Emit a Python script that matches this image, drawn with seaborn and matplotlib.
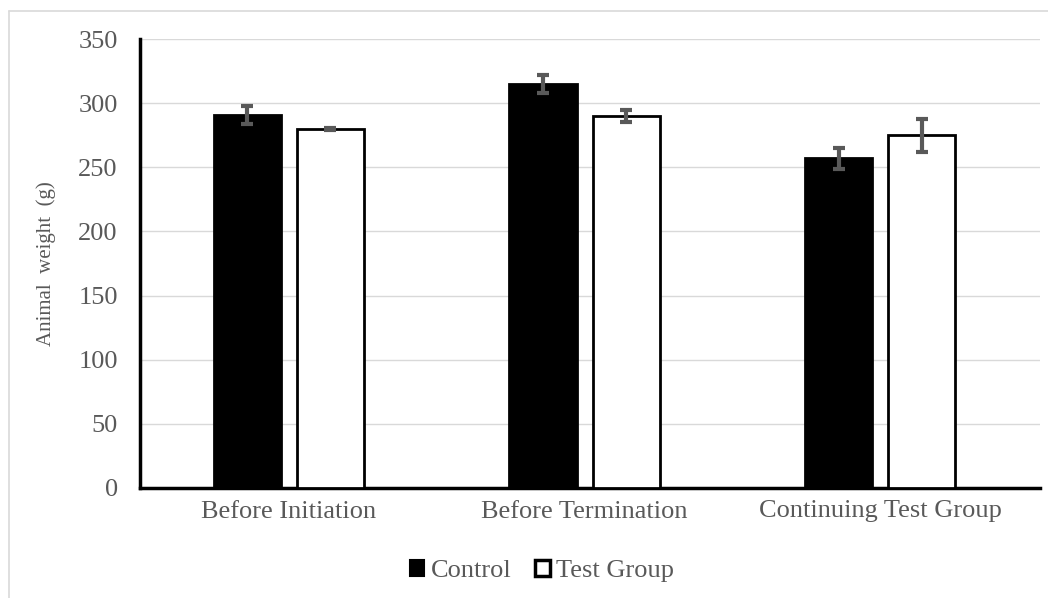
import matplotlib
matplotlib.use("Agg")
import matplotlib.pyplot as plt
from matplotlib.patches import Patch
from matplotlib.lines import Line2D
import numpy as np
import pandas as pd
import seaborn as sns

# values
stages = ["Before Initiation", "Before Termination", "Continuing Test Group"]
groups = ["Control", "Test Group"]
control = [291, 315, 257]
control_err = [7, 7, 8]
test = [280, 290, 275]
test_err = [1, 5, 13]
y_ticks = [0, 50, 100, 150, 200, 250, 300, 350]

df = pd.DataFrame({
    "stage": stages * 2,
    "group": [groups[0]] * 3 + [groups[1]] * 3,
    "weight": control + test,
    "err": control_err + test_err,
})

sns.set_style("white")
text_col = "#595959"
serif = ["Liberation Serif", "DejaVu Serif"]

fig = plt.figure(figsize=(10.48, 5.98), dpi=100)
ax = fig.add_axes([140 / 1048, 110 / 598, 900 / 1048, 449 / 598])

sns.barplot(data=df, x="stage", y="weight", hue="group", order=stages, hue_order=groups,
            palette={"Control": "black", "Test Group": "white"}, edgecolor="black",
            linewidth=2, width=0.562, gap=0.192, errorbar=None, legend=False, ax=ax, zorder=3)

# error bars on top of each bar
bars = [p for p in ax.patches if p.get_height() > 0]
errs = control_err + test_err
for p, e in zip(bars, errs):
    ax.errorbar(p.get_x() + p.get_width() / 2, p.get_height(), yerr=e, fmt="none",
                ecolor=text_col, elinewidth=3, capsize=4, capthick=3, zorder=4)

ax.set_ylim(0, 350)
ax.set_xlim(-0.504, 2.541)
ax.set_yticks(y_ticks)
ax.yaxis.grid(True, color="#d9d9d9", linewidth=1)
ax.set_axisbelow(True)
for s in ["top", "right"]:
    ax.spines[s].set_visible(False)
for s in ["left", "bottom"]:
    ax.spines[s].set_color("black")
    ax.spines[s].set_linewidth(2.5)

ax.tick_params(axis="y", length=0, pad=16, labelsize=19, labelcolor=text_col)
ax.tick_params(axis="x", length=0, pad=9, labelsize=19, labelcolor=text_col)
for t in ax.get_yticklabels() + ax.get_xticklabels():
    t.set_family(serif)
ax.set_xlabel("")
ax.set_ylabel("Animal  weight  (g)", fontsize=15, color=text_col, family=serif, labelpad=16)

handles = [Patch(facecolor="black", edgecolor="black", linewidth=1.5, label="Control"),
           Patch(facecolor="white", edgecolor="black", linewidth=2.5, label="Test Group")]
leg = fig.legend(handles=handles, loc="center", bbox_to_anchor=(542 / 1048, 1 - 571 / 598),
                 ncol=2, frameon=False, handlelength=0.55, handleheight=0.55, handletextpad=0.25,
                 columnspacing=0.9, prop={"family": serif, "size": 19})
for t in leg.get_texts():
    t.set_color(text_col)

# light frame lines seen at top and left of the picture
fig.add_artist(Line2D([9 / 1048, 9 / 1048], [0, 1 - 11 / 598], transform=fig.transFigure,
                      color="#d9d9d9", linewidth=1.2))
fig.add_artist(Line2D([9 / 1048, 1], [1 - 11 / 598, 1 - 11 / 598], transform=fig.transFigure,
                      color="#d9d9d9", linewidth=1.2))

fig.savefig("out.png", dpi=100)
